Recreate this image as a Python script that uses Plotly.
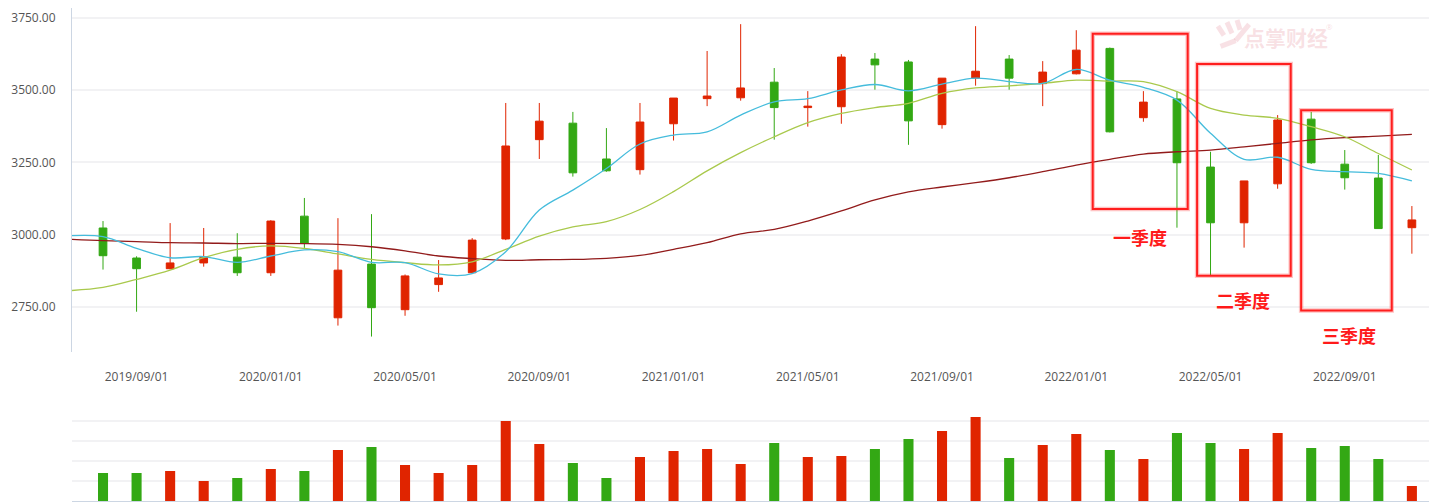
import plotly.graph_objects as go

# ---------------- data ----------------
idx = list(range(40))
tick_idx = [1, 5, 9, 13, 17, 21, 25, 29, 33, 37]
tick_labels = ["2019/09/01", "2020/01/01", "2020/05/01", "2020/09/01", "2021/01/01",
               "2021/05/01", "2021/09/01", "2022/01/01", "2022/05/01", "2022/09/01"]

opens = [3023, 2919, 2882, 2902, 2922, 2868, 3064, 2712, 2898, 2740,
         2827, 2868, 2985, 3329, 3386, 3262, 3225, 3384, 3471, 3474,
         3528, 3440, 3443, 3608, 3598, 3381, 3542, 3608, 3523, 3557,
         3645, 3405, 3470, 3234, 3041, 3176, 3400, 3244, 3196, 3024]
closes = [2927, 2882, 2902, 2922, 2868, 3047, 2971, 2877, 2747, 2857,
          2850, 2981, 3307, 3393, 3214, 3221, 3390, 3473, 3480, 3508,
          3440, 3445, 3615, 3588, 3394, 3542, 3566, 3542, 3563, 3639,
          3356, 3459, 3249, 3041, 3186, 3397, 3249, 3197, 3021, 3051]
highs = [3047, 2925, 3040, 3023, 3005, 3050, 3127, 3057, 3071, 2862,
         2912, 2988, 3456, 3456, 3425, 3369, 3456, 3473, 3636, 3729,
         3577, 3497, 3625, 3629, 3605, 3542, 3722, 3622, 3601, 3708,
         3648, 3497, 3497, 3287, 3186, 3414, 3425, 3293, 3276, 3099]
lows = [2879, 2733, 2880, 2889, 2857, 2857, 2954, 2685, 2647, 2719,
        2802, 2866, 2981, 3262, 3201, 3218, 3208, 3326, 3445, 3464,
        3329, 3374, 3384, 3502, 3311, 3367, 3516, 3502, 3445, 3555,
        3354, 3391, 3024, 2860, 2955, 3159, 3245, 3156, 3021, 2934]

volumes = [84, 84, 90, 60, 69, 96, 90, 153, 162, 108,
           84, 108, 240, 171, 114, 69, 132, 150, 156, 111,
           174, 132, 135, 156, 186, 210, 252, 129, 168, 201,
           153, 126, 204, 174, 156, 204, 159, 165, 126, 45]

# moving-average lines (one extra point before the first visible candle)
ma_idx = list(range(-1, 40))
ma_short = [2996, 2993, 2952, 2920, 2924, 2904, 2926, 2947, 2941, 2904,
            2903, 2864, 2865, 2941, 3085, 3154, 3229, 3314, 3345, 3356,
            3414, 3460, 3471, 3501, 3520, 3498, 3521, 3542, 3530, 3524,
            3572, 3535, 3510, 3466, 3351, 3261, 3268, 3226, 3218, 3212, 3186]
ma_mid = [2806, 2817, 2845, 2877, 2920, 2949, 2961, 2952, 2933, 2914,
          2903, 2895, 2906, 2949, 2995, 3027, 3045, 3087, 3149, 3221,
          3284, 3339, 3388, 3420, 3440, 3455, 3489, 3508, 3515, 3524,
          3535, 3532, 3530, 3495, 3437, 3414, 3403, 3374, 3339, 3281, 3224]
ma_long = [2984, 2979, 2976, 2972, 2971, 2969, 2970, 2969, 2966, 2958,
           2944, 2926, 2917, 2911, 2913, 2914, 2918, 2928, 2949, 2972,
           3003, 3018, 3047, 3082, 3120, 3148, 3165, 3180, 3197, 3218,
           3241, 3261, 3279, 3287, 3293, 3304, 3316, 3328, 3336, 3341, 3347]

y_ticks = [2750, 3000, 3250, 3500, 3750]

quarter_labels = ["一季度", "二季度", "三季度"]
quarter_boxes = [(29.49, 32.32, 3089, 3696), (32.60, 35.39, 2858, 3591), (35.70, 38.40, 2737, 3431)]
quarter_text_pos = [(30.89, 2992), (33.97, 2774), (37.13, 2652)]

# ---------------- styles ----------------
RED = "#e02400"
GREEN = "#33a814"
C_SHORT = "#45bcdc"
C_MID = "#a9c94c"
C_LONG = "#921b1b"
GRID = "#f2f2f4"
AXIS = "#ccd6e3"
WM = "rgba(225,120,135,0.22)"
FONT = "Open Sans, Noto Sans CJK SC, sans-serif"

fig = go.Figure()

fig.add_trace(go.Candlestick(
    x=idx, open=opens, high=highs, low=lows, close=closes,
    increasing=dict(line=dict(color=RED, width=1), fillcolor=RED),
    decreasing=dict(line=dict(color=GREEN, width=1), fillcolor=GREEN),
    whiskerwidth=0, showlegend=False, xaxis="x", yaxis="y",
))

for vals, col in [(ma_long, C_LONG), (ma_mid, C_MID), (ma_short, C_SHORT)]:
    fig.add_trace(go.Scatter(
        x=ma_idx, y=vals, mode="lines",
        line=dict(color=col, width=1.3, shape="spline", smoothing=1.0),
        showlegend=False, hoverinfo="skip", xaxis="x", yaxis="y",
    ))

vol_colors = [RED if c >= o else GREEN for o, c in zip(opens, closes)]
fig.add_trace(go.Bar(
    x=idx, y=volumes, marker=dict(color=vol_colors, line=dict(width=0)),
    width=0.3, showlegend=False, xaxis="x2", yaxis="y2",
))

# quarter boxes with a soft glow
for (x0, x1, y0, y1) in quarter_boxes:
    fig.add_shape(type="rect", xref="x", yref="y", x0=x0, x1=x1, y0=y0, y1=y1,
                  line=dict(color="rgba(255,40,40,0.28)", width=4.5), fillcolor="rgba(0,0,0,0)")
    fig.add_shape(type="rect", xref="x", yref="y", x0=x0, x1=x1, y0=y0, y1=y1,
                  line=dict(color="#ff1e1e", width=2), fillcolor="rgba(0,0,0,0)")

for label, (tx, ty) in zip(quarter_labels, quarter_text_pos):
    fig.add_annotation(x=tx, y=ty, xref="x", yref="y", text="<b>%s</b>" % label,
                       showarrow=False, font=dict(size=18, color="#ff1a1a",
                                                  family="Noto Sans CJK SC"))

# watermark: pale logo strokes + brand text
for (x0, y0, x1, y1) in [(33.22, 3722, 33.40, 3690), (33.49, 3736, 33.64, 3697),
                         (33.79, 3743, 33.88, 3710), (33.30, 3652, 33.75, 3672),
                         (33.75, 3672, 34.15, 3728)]:
    fig.add_shape(type="line", xref="x", yref="y", x0=x0, y0=y0, x1=x1, y1=y1,
                  line=dict(color=WM, width=5), layer="below")
fig.add_annotation(x=35.25, y=3684, xref="x", yref="y", text="<b>点掌财经</b>",
                   showarrow=False, font=dict(size=21, color=WM,
                                              family="Noto Sans CJK SC"))
fig.add_annotation(x=36.55, y=3722, xref="x", yref="y", text="®",
                   showarrow=False, font=dict(size=8, color="rgba(225,120,135,0.25)"))

fig.update_layout(
    width=1437, height=502,
    margin=dict(l=72, r=8, t=0, b=0),
    paper_bgcolor="white", plot_bgcolor="white",
    font=dict(family=FONT, size=12, color="#555"),
    boxgap=0.672,
    bargap=0.7,
    showlegend=False,
    hovermode=False,
    xaxis=dict(domain=[0, 1], range=[-0.924, 39.51], anchor="y",
               tickmode="array", tickvals=tick_idx, ticktext=tick_labels,
               showgrid=False, showline=False, zeroline=False, ticks="",
               ticklabelstandoff=16, tickfont=dict(size=12, color="#555"),
               rangeslider=dict(visible=False)),
    yaxis=dict(domain=[0.2988, 0.9841], range=[2593.5, 3785], anchor="x",
               tickmode="array", tickvals=y_ticks, ticktext=["%.2f" % v for v in y_ticks],
               showgrid=True, gridcolor=GRID, gridwidth=2, zeroline=False,
               showline=True, linecolor=AXIS, linewidth=1, ticks="",
               ticklabelstandoff=13, tickfont=dict(size=12, color="#555")),
    xaxis2=dict(domain=[0, 1], range=[-0.924, 39.51], anchor="y2", matches="x",
                showticklabels=False, showgrid=False, zeroline=False,
                showline=True, linecolor=AXIS, linewidth=2, ticks=""),
    yaxis2=dict(domain=[0.002, 0.2012], range=[0, 300], anchor="x2",
                dtick=60, showticklabels=False, showgrid=True, gridcolor=GRID,
                gridwidth=2, zeroline=False, showline=False, ticks=""),
)

fig.write_html("out.html")
